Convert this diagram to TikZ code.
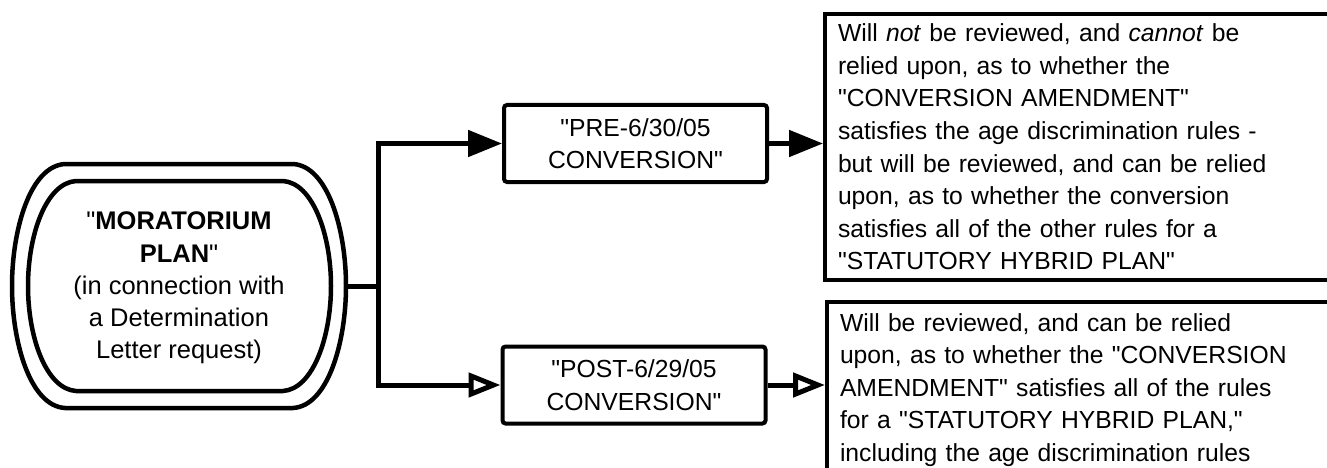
\documentclass[tikz,border=0pt]{standalone}
\usepackage{fontspec}
\setmainfont{Liberation Sans}[Ligatures=TeXOff]
\usetikzlibrary{arrows.meta}
\newcommand\diafont{\fontsize{24.7}{32.6}\selectfont}
\begin{document}
\begin{tikzpicture}[x=1pt,y=-1pt,line join=miter,
  midbox/.style={draw, line width=4pt, rounded corners=3pt, align=center, inner sep=0pt,
    font=\diafont, minimum width=263pt, minimum height=77pt},
  txtbox/.style={draw, line width=4pt, align=left, inner xsep=13pt, inner ysep=0pt,
    font=\diafont, text width=511pt, anchor=north west},
  outline/.style={line width=4.5pt},
  conn/.style={line width=5pt},
  solidtip/.style={-{Triangle[length=34pt,width=26pt]}},
  opentip/.style={-{Triangle[open,length=32pt,width=24pt,fill=white]}}]
\useasboundingbox (0,0) rectangle (1327,468);
\clip (0,0) rectangle (1327,468);

% left double-outlined shape
\draw[outline] (65,164) -- (293,164)
  .. controls (328,166) and (346,230) .. (346,286)
  .. controls (346,342) and (328,406) .. (293,408) -- (65,408)
  .. controls (30,406) and (12,342) .. (12,286)
  .. controls (12,230) and (30,166) .. (65,164) -- cycle;
\draw[outline] (76,181) -- (283,181)
  .. controls (313,183) and (331,235) .. (331,286)
  .. controls (331,337) and (313,389) .. (283,391) -- (76,391)
  .. controls (46,389) and (28,337) .. (28,286)
  .. controls (28,235) and (46,183) .. (76,181) -- cycle;
\node[font=\fontsize{25.5}{32.2}\selectfont, align=center, inner sep=0pt, minimum width=334pt, minimum height=244pt] (mp) at (179,288)
  {"\textbf{MORATORIUM}\\\textbf{PLAN}"\\(in connection with\\a Determination\\Letter request)};

% middle boxes
\node[midbox] (pre) at (635.5,143.5) {"PRE-6/30/05\\CONVERSION"};
\node[midbox] (post) at (634,385) {"POST-6/29/05\\CONVERSION"};

% right boxes
\node[txtbox, minimum height=266pt] (r1) at (823,12)
  {Will \textit{not} be reviewed, and \textit{cannot} be\\
   relied upon, as to whether the\\
   "CONVERSION AMENDMENT"\\
   satisfies the age discrimination rules -\\
   but will be reviewed, and can be relied\\
   upon, as to whether the conversion\\
   satisfies all of the other rules for a\\
   "STATUTORY HYBRID PLAN"};
\node[txtbox, minimum height=176pt] (r2) at (825,300)
  {Will be reviewed, and can be relied\\
   upon, as to whether the "CONVERSION\\
   AMENDMENT" satisfies all of the rules\\
   for a "STATUTORY HYBRID PLAN,"\\
   including the age discrimination rules};

% connectors
\coordinate (j) at (378,286);
\draw[conn] (mp.east |- j) -- (j);
\draw[conn, solidtip] (j) |- (pre.west);
\draw[conn, opentip] (j) |- (post.west);
\draw[conn, solidtip] (pre.east) -- (r1.west |- pre.east);
\draw[conn, opentip] (post.east) -- (r2.west |- post.east);
\end{tikzpicture}
\end{document}
